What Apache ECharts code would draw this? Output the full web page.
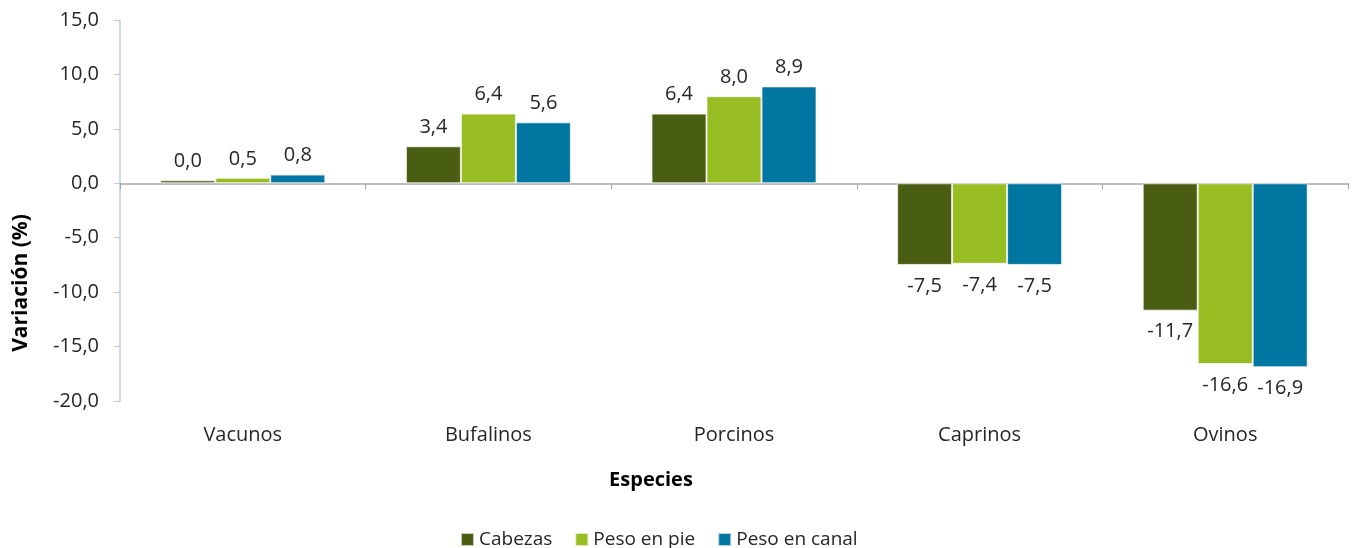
<!DOCTYPE html>
<html>
<head>
<meta charset="utf-8">
<script src="https://cdn.jsdelivr.net/npm/echarts@6/dist/echarts.min.js"></script>
<style>
  html, body { margin: 0; padding: 0; background: #fff; }
  #chart { width: 1354px; height: 548px; }
</style>
</head>
<body>
<div id="chart"></div>
<script>
var especies = ['Vacunos', 'Bufalinos', 'Porcinos', 'Caprinos', 'Ovinos'];
var cabezas = [0.04, 3.4, 6.4, -7.5, -11.7];
var pesoPie = [0.5, 6.4, 8.0, -7.4, -16.6];
var pesoCanal = [0.8, 5.6, 8.9, -7.5, -16.9];

var colores = ['#4a5e13', '#98bd22', '#0076a0'];
var fuente = '"Open Sans", "Noto Sans", sans-serif';

function coma(v) {
  return v.toFixed(1).replace('.', ',');
}

function serie(nombre, datos, color) {
  return {
    name: nombre,
    type: 'bar',
    xAxisIndex: 0,
    barWidth: 55,
    barGap: '0%',
    barMinHeight: 3,
    data: datos.map(function (v) {
      return {
        value: v,
        label: { position: v < 0 ? 'bottom' : 'top', distance: v < 0 ? 11 : 9 }
      };
    }),
    itemStyle: { color: color, borderColor: 'rgba(255,255,255,0.7)', borderWidth: 1 },
    label: {
      show: true,
      fontFamily: fuente,
      fontSize: 20,
      color: '#262626',
      formatter: function (p) { return coma(p.value); }
    }
  };
}

var chart = echarts.init(document.getElementById('chart'));
chart.setOption({
  animation: false,
  textStyle: { fontFamily: fuente },
  grid: { left: 120, right: 6, top: 20, bottom: 147, outerBoundsMode: 'none', containLabel: false },
  legend: {
    left: 455,
    top: 525,
    icon: 'rect',
    itemWidth: 13,
    itemHeight: 13,
    itemGap: 22,
    textStyle: { fontFamily: fuente, fontSize: 19, color: '#262626' },
    data: ['Cabezas', 'Peso en pie', 'Peso en canal']
  },
  xAxis: [
    {
      // eje en cero: linea y marcas
      type: 'category',
      data: especies,
      axisLine: { onZero: true, lineStyle: { color: '#a6a6a6', width: 1.5 } },
      axisTick: { show: true, length: 6, lineStyle: { color: '#a6a6a6' } },
      axisLabel: { show: false },
      splitLine: { show: false }
    },
    {
      // etiquetas abajo
      type: 'category',
      position: 'bottom',
      data: especies,
      name: 'Especies',
      nameLocation: 'middle',
      nameGap: 69,
      nameTextStyle: { fontFamily: fuente, fontSize: 20, fontWeight: 'bold', color: '#000', padding: [0, 166, 0, 0] },
      axisLine: { show: false, onZero: false },
      axisTick: { show: false },
      axisLabel: { margin: 24, fontFamily: fuente, fontSize: 20, color: '#262626' },
      splitLine: { show: false }
    }
  ],
  yAxis: {
    type: 'value',
    min: -20,
    max: 15,
    interval: 5,
    name: 'Variación (%)',
    nameLocation: 'middle',
    nameGap: 88,
    nameTextStyle: { fontFamily: fuente, fontSize: 21, fontWeight: 'bold', color: '#000', padding: [0, 145, 0, 0] },
    axisLine: { show: true, lineStyle: { color: '#bccde3', width: 1.5 } },
    axisTick: { show: true, length: 6, lineStyle: { color: '#bccde3' } },
    axisLabel: { margin: 21, fontFamily: fuente, fontSize: 20, color: '#262626', formatter: coma },
    splitLine: { show: false }
  },
  series: [
    serie('Cabezas', cabezas, colores[0]),
    serie('Peso en pie', pesoPie, colores[1]),
    serie('Peso en canal', pesoCanal, colores[2])
  ]
});
</script>
</body>
</html>
